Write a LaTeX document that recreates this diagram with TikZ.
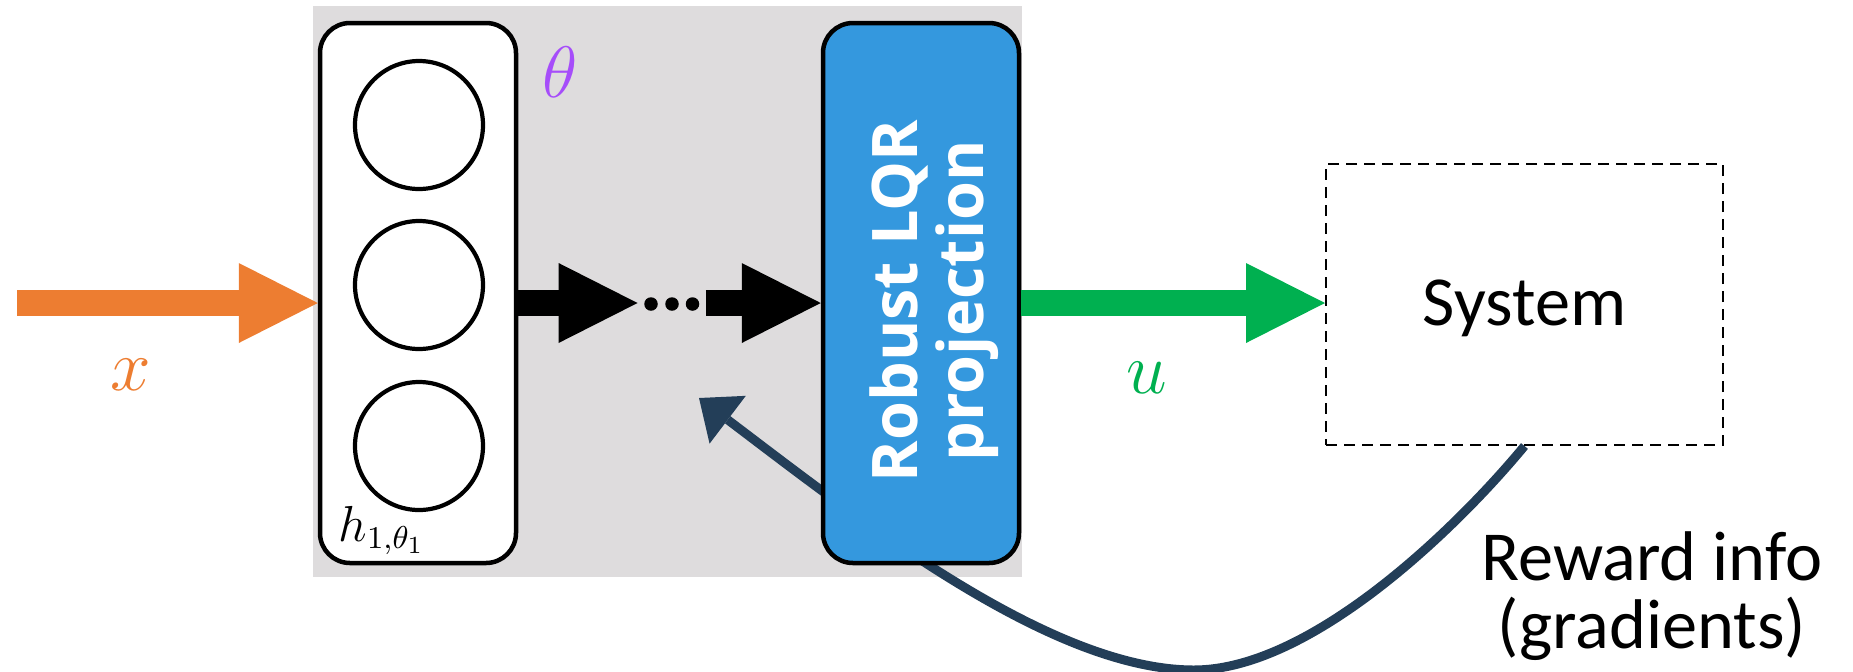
\documentclass[tikz,border=0pt]{standalone}
\usepackage{fontspec}
\usetikzlibrary{arrows.meta}
\newfontfamily\carlito{Carlito}
\newfontfamily\lqrfont{Open Sans}
\definecolor{panelgray}{RGB}{222,220,221}
\definecolor{lqrblue}{RGB}{52,152,222}
\definecolor{navyline}{RGB}{35,62,88}
\definecolor{inorange}{RGB}{237,125,49}
\definecolor{outgreen}{RGB}{0,176,80}
\definecolor{parampurple}{RGB}{166,77,250}
\begin{document}
\begin{tikzpicture}[x=0.1mm,y=-0.1mm,
  panel/.style={fill=panelgray, draw=none, minimum width=70.9mm, minimum height=57.1mm, inner sep=0pt, outer sep=0pt},
  netbox/.style={draw, fill=white, line width=0.45mm, rounded corners=3mm, minimum width=19.6mm, minimum height=54.0mm, inner sep=0pt},
  neuron/.style={circle, draw, fill=white, line width=0.42mm, minimum size=12.8mm, inner sep=0pt},
  lqrbox/.style={draw, fill=lqrblue, line width=0.45mm, rounded corners=3mm, minimum width=19.6mm, minimum height=54.0mm, inner sep=0pt},
  sysbox/.style={draw, dash pattern=on 1.1mm off 0.7mm, line width=0.2mm, minimum width=39.7mm, minimum height=28.1mm, inner sep=0pt},
  fatarrow/.style={line width=2.6mm, -{Triangle[length=7.9mm,width=8mm,line width=0pt]}},
  fbarrow/.style={draw=navyline, line width=0.9mm, -{Triangle[length=3.6mm,width=6mm,line width=0pt]}},
  dotnode/.style={circle, fill, minimum size=1.35mm, inner sep=0pt},
  mathlabel/.style={font=\fontsize{22}{26}\selectfont, inner sep=0pt},
  sanslabel/.style={font=\carlito\fontsize{20}{19.5}\selectfont, inner sep=0pt}
]
\useasboundingbox (0,0) rectangle (1853,671);

% shaded panel holding the network and the projection layer
\node[panel] (panel) at (667.5,291.5) {};

% gradient feedback from the system, passing under the projection box
\coordinate (fbtip) at (699,398);
\node[sysbox] (sys) at (1524.5,304.5) {};
\draw[fbarrow] (sys.south) .. controls (1455,530) and (1310,670) .. (1194,670)
  .. controls (1050,670) and (860,520) .. (fbtip);

% first layer of the network
\node[netbox] (net) at (418,293) {};
\node[neuron] (n1) at (419,125) {};
\node[neuron] (n2) at (419,285) {};
\node[neuron] (n3) at (419,446) {};
\node[anchor=base west, font=\fontsize{13.5}{16}\selectfont, inner sep=0pt] (hlab) at (338,541) {$h_{1,\theta_1}$};
\node[mathlabel, text=parampurple] (theta) at (560,72) {$\theta$};

% projection layer
\node[lqrbox] (lqr) at (921,293) {};
\node[rotate=90, text=white, align=center, inner sep=0pt,
      font=\lqrfont\bfseries\fontsize{17.9}{18.8}\selectfont] (lqrtext) at (934,301) {Robust LQR\\projection};

% system block
\node[sanslabel] (systext) at ([yshift=-0.4mm]sys.center) {System};

% intermediate layers
\node[dotnode] (d1) at (651,304) {};
\node[dotnode] (d2) at (672,304) {};
\node[dotnode] (d3) at (692.5,304) {};

% input, hidden and control arrows
\coordinate (xin) at (17,303);
\draw[fatarrow, draw=inorange] (xin) -- (xin -| net.west);
\node[mathlabel, text=inorange] (xlab) at (131,375) {$x$};
\draw[fatarrow, shorten >=0.6mm] (net.east |- xin) -- (d1.west |- xin);
\draw[fatarrow, shorten <=0.6mm] (d3.east |- xin) -- (xin -| lqr.west);
\draw[fatarrow, draw=outgreen] (lqr.east |- xin) -- (xin -| sys.west);
\node[mathlabel, text=outgreen] (ulab) at (1147,378) {$u$};

% feedback label
\node[sanslabel, align=center] (reward) at (1652,596) {Reward info\\(gradients)};
\end{tikzpicture}
\end{document}
